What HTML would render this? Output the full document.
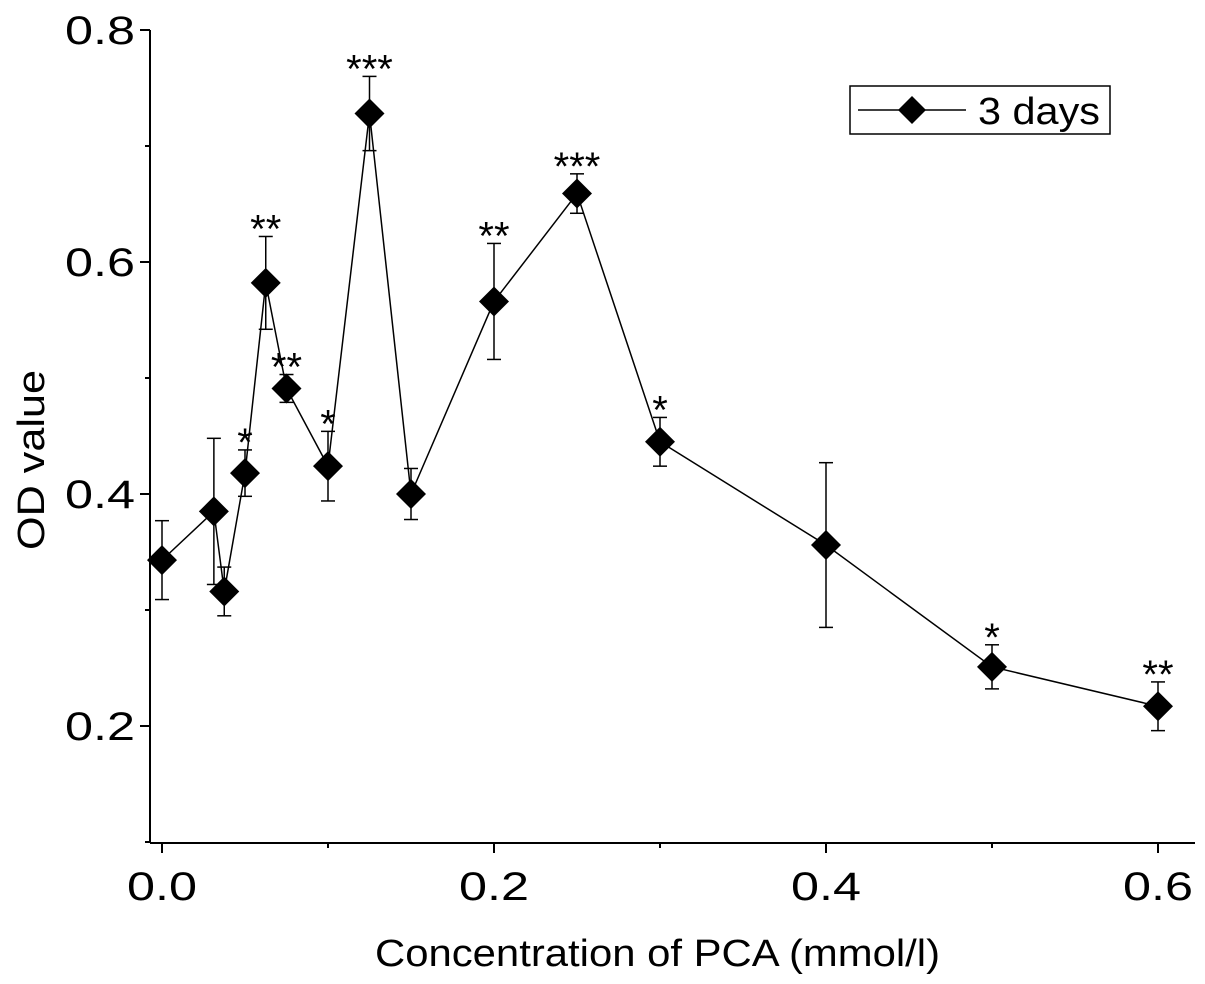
<!DOCTYPE html>
<html><head><meta charset="utf-8"><style>
body{margin:0;background:#fff;}
svg{display:block;font-family:"Liberation Sans",Arial,sans-serif;}
</style></head><body>
<svg id="chart" width="1205" height="984" viewBox="0 0 1205 984">
<g id="axes"></g><g id="series"></g>
<g>
<rect x="850" y="86" width="260" height="48" fill="#fff" stroke="#000" stroke-width="1.5"/>
<line x1="858" y1="110" x2="966" y2="110" stroke="#000" stroke-width="1.5"/>
<path d="M912 96 L926 110 L912 124 L898 110 Z" fill="#000"/>
<text x="978" y="124" font-size="38" textLength="122" lengthAdjust="spacingAndGlyphs">3 days</text>
</g>
<text x="375" y="966" font-size="38" textLength="565" lengthAdjust="spacingAndGlyphs">Concentration of PCA (mmol/l)</text>
<text transform="translate(44,550) rotate(-90)" font-size="38" textLength="180" lengthAdjust="spacingAndGlyphs">OD value</text>
</svg>
<script>
const xs=[0,0.03125,0.0375,0.05,0.0625,0.075,0.1,0.125,0.15,0.2,0.25,0.3,0.4,0.5,0.6];
const ys=[0.343,0.385,0.316,0.418,0.582,0.491,0.424,0.728,0.400,0.566,0.659,0.445,0.356,0.251,0.217];
const errs=[0.034,0.063,0.021,0.02,0.04,0.012,0.03,0.032,0.022,0.05,0.017,0.021,0.071,0.019,0.021];
const stars=["","","","*","**","**","*","***","","**","***","*","","*","**"];
const xTicks=["0.0","0.2","0.4","0.6"];
const yTicks=["0.2","0.4","0.6","0.8"];
const NS="http://www.w3.org/2000/svg";
const X=v=>162+v*1660, Y=v=>30+(0.8-v)*1160;
function mk(t,a,p){const e=document.createElementNS(NS,t);for(const k in a)e.setAttribute(k,a[k]);p.appendChild(e);return e;}
const ax=document.getElementById('axes'), se=document.getElementById('series');
const yl=mk('line',{x1:150,y1:30,x2:150,y2:843,stroke:'#000','stroke-width':2},ax);


const xl=mk('line',{x1:150,y1:843,x2:1195,y2:843,stroke:'#000','stroke-width':2},ax);


yTicks.forEach(t=>{const v=+t;mk('line',{x1:140,y1:Y(v),x2:150,y2:Y(v),stroke:'#000','stroke-width':2},ax);
const tx=mk('text',{x:65,y:Y(v)+14,'font-size':40,textLength:70,lengthAdjust:'spacingAndGlyphs'},ax);tx.textContent=t;


mk('line',{x1:145,y1:Y(v-0.1),x2:150,y2:Y(v-0.1),stroke:'#000','stroke-width':2},ax);});
xTicks.forEach(t=>{const v=+t;mk('line',{x1:X(v),y1:843,x2:X(v),y2:853,stroke:'#000','stroke-width':2},ax);
const tx=mk('text',{x:X(v)-35,y:900,'font-size':40,textLength:70,lengthAdjust:'spacingAndGlyphs'},ax);tx.textContent=t;


if(v<0.6)mk('line',{x1:X(v+0.1),y1:843,x2:X(v+0.1),y2:848,stroke:'#000','stroke-width':2},ax);});
const ln=mk('polyline',{points:xs.map((x,i)=>X(x)+','+Y(ys[i])).join(' '),fill:'none',stroke:'#000','stroke-width':1.5},se);


xs.forEach((x,i)=>{const cx=X(x),t=Y(ys[i]+errs[i]),b=Y(ys[i]-errs[i]);
const g=mk('g',{},se);


mk('line',{x1:cx,y1:t,x2:cx,y2:b,stroke:'#000','stroke-width':1.5},g);
mk('line',{x1:cx-7,y1:t,x2:cx+7,y2:t,stroke:'#000','stroke-width':1.5},g);
mk('line',{x1:cx-7,y1:b,x2:cx+7,y2:b,stroke:'#000','stroke-width':1.5},g);
const cy=Y(ys[i]);
const p=mk('path',{d:`M${cx} ${cy-15} L${cx+15} ${cy} L${cx} ${cy+15} L${cx-15} ${cy} Z`,fill:'#000'},se);


if(stars[i]){const s=mk('text',{x:cx,y:t+6,'font-size':40,'text-anchor':'middle'},se);s.textContent=stars[i];

}
});
</script>
</body></html>
